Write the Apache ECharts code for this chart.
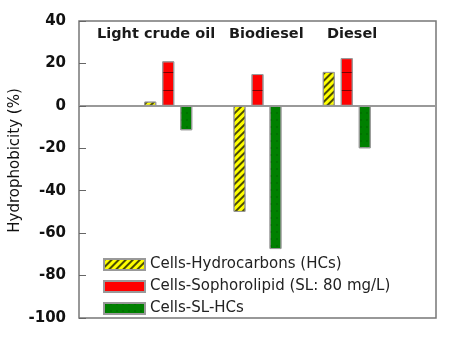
<!DOCTYPE html>
<html>
<head>
<meta charset="utf-8">
<script src="https://cdn.jsdelivr.net/npm/echarts@6/dist/echarts.min.js"></script>
<style>
  html, body { margin: 0; padding: 0; background: #fff; }
  #chart { width: 450px; height: 338px; }
</style>
</head>
<body>
<div id="chart"></div>
<script>
// fuels
const groups = ['Light crude oil', 'Biodiesel', 'Diesel']
const cellsHCs = [2, -50, 16]
const cellsSL = [21, 15, 22.5]
const cellsSLHCs = [-11.5, -67.5, -20]
const seriesNames = ['Cells-Hydrocarbons (HCs)', 'Cells-Sophorolipid (SL: 80 mg/L)', 'Cells-SL-HCs']
const yTicks = [-100, -80, -60, -40, -20, 0, 20, 40]

// pad with an empty slot on each side so the groups sit on the inner ticks
const categories = ['', ...groups, '']
const pad = arr => ['-', ...arr, '-']

const font = 'DejaVu Sans, sans-serif'
const chart = echarts.init(document.getElementById('chart'))

const barBase = {
  type: 'bar',
  barWidth: 12,
  barGap: '50%',
  animation: false
}

const option = {
  backgroundColor: '#fff',
  grid: {
    left: 79, right: 14, top: 21, bottom: 20,
    outerBoundsMode: 'none',
    show: true,
    borderColor: '#777',
    borderWidth: 1.5,
    backgroundColor: 'transparent'
  },
  xAxis: {
    type: 'category',
    data: categories,
    boundaryGap: false,
    axisLine: { onZero: true, lineStyle: { color: '#999', width: 2 } },
    axisTick: { show: false },
    axisLabel: { show: false },
    splitLine: { show: false }
  },
  yAxis: {
    type: 'value',
    min: yTicks[0],
    max: yTicks[yTicks.length - 1],
    interval: 20,
    name: 'Hydrophobicity (%)',
    nameLocation: 'middle',
    nameGap: 56,
    nameMoveOverlap: false,
    nameTextStyle: { fontFamily: font, fontSize: 15, color: '#111', padding: [0, 0, 0, 18] },
    axisLine: { show: false },
    axisTick: { show: true, inside: true, length: 7, lineStyle: { color: '#666' } },
    axisLabel: { fontFamily: font, fontSize: 15, fontWeight: 'bold', color: '#111', margin: 13 },
    splitLine: { show: false }
  },
  legend: {
    orient: 'vertical',
    left: 98,
    top: 252,
    icon: 'rect',
    itemWidth: 41,
    itemHeight: 11,
    itemGap: 7,
    textStyle: { fontFamily: font, fontSize: 15, color: '#222' },
    data: seriesNames
  },
  graphic: groups.map((g, i) => ({
    type: 'text',
    left: [97, 229, 327][i],
    top: 27,
    style: { text: g, font: 'bold 14.5px ' + font, fill: '#1a1a1a' }
  })),
  series: [
    {
      ...barBase,
      name: seriesNames[0],
      data: pad(cellsHCs),
      itemStyle: {
        color: '#ffff00',
        borderColor: '#999',
        borderWidth: 1,
        decal: {
          color: 'rgba(0,0,0,0.7)',
          dashArrayX: [1, 0],
          dashArrayY: [2, 3],
          rotation: -Math.PI / 4
        }
      }
    },
    {
      ...barBase,
      name: seriesNames[1],
      data: pad(cellsSL),
      itemStyle: {
        color: '#ff0000',
        borderColor: '#999',
        borderWidth: 1,
        decal: {
          color: '#7a0000',
          dashArrayX: [1, 0],
          dashArrayY: [1, 17],
          rotation: 0
        }
      }
    },
    {
      ...barBase,
      name: seriesNames[2],
      data: pad(cellsSLHCs),
      itemStyle: {
        color: '#008000',
        borderColor: '#999',
        borderWidth: 1,
        decal: {
          symbol: 'rect',
          symbolSize: 0.5,
          color: '#004a00',
          dashArrayX: [[2, 4]],
          dashArrayY: [2, 5],
          rotation: 0
        }
      }
    }
  ]
}

chart.setOption(option)
</script>
</body>
</html>
